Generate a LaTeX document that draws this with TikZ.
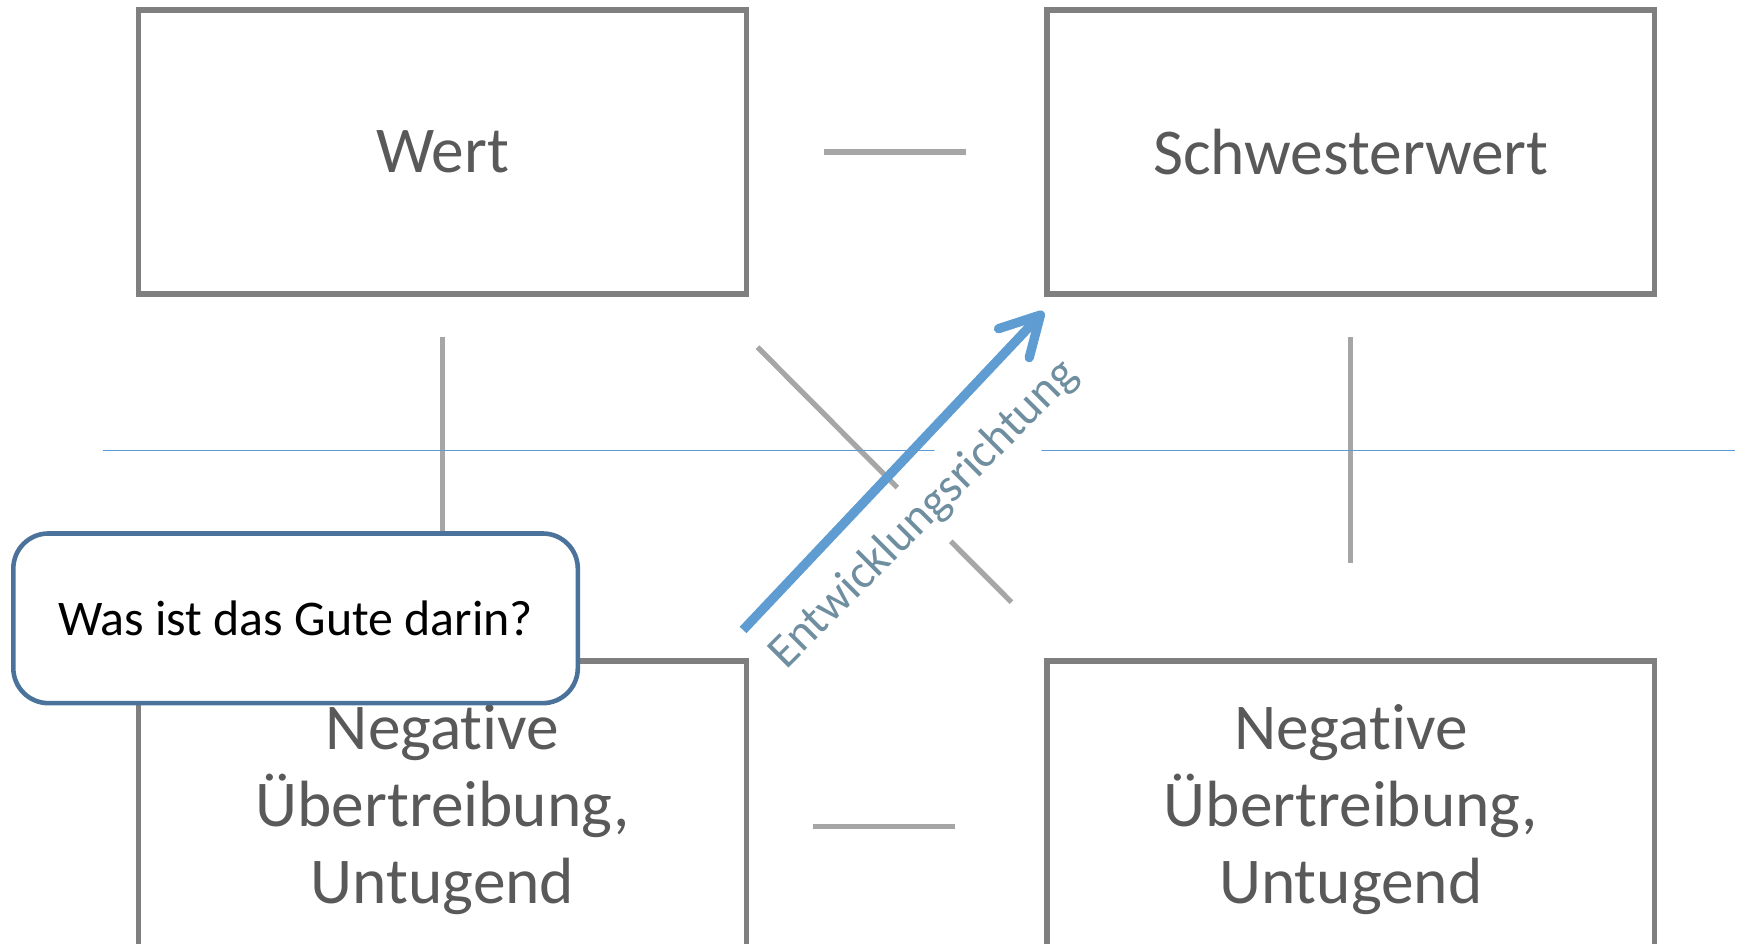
\documentclass[tikz,border=0pt]{standalone}
\usepackage{fontspec}
\setmainfont{Carlito}[Ligatures=NoCommon]
\usetikzlibrary{arrows.meta}
\definecolor{boxgray}{HTML}{7F7F7F}
\definecolor{linegray}{HTML}{A6A6A6}
\definecolor{txtgray}{HTML}{595959}
\definecolor{axisblue}{HTML}{5B9BD5}
\definecolor{arrowblue}{HTML}{5E9CD1}
\definecolor{dirtxt}{HTML}{6F8FA0}
\definecolor{callblue}{HTML}{4A729B}
\def\pxu{0.1109mm}
\begin{document}
\begin{tikzpicture}[x=0.1109mm,y=-0.1109mm,
  valbox/.style={draw=boxgray, line width=1.5pt, minimum width=548*\pxu, minimum height=256*\pxu,
    text=txtgray, align=center, font=\fontsize{18.6}{22}\selectfont, inner sep=0pt},
  lowbox/.style={valbox, minimum height=268*\pxu},
  link/.style={draw=linegray, line width=1.5pt},
  axis/.style={draw=axisblue, line width=0.4pt},
  dirlabel/.style={fill=white, text=dirtxt, font=\fontsize{13.6}{16}\selectfont, minimum height=68*\pxu, inner ysep=0pt, inner xsep=2pt},
  devarrow/.style={draw=arrowblue, line width=2.65pt, -{Straight Barb[length=11pt,width=12pt,round]}},
  callout/.style={draw=callblue, line width=1.3pt, fill=white, rounded corners=10pt,
    minimum width=509*\pxu, minimum height=153*\pxu, font=\fontsize{14.2}{17}\selectfont, text=black}
]
\useasboundingbox (0,0) rectangle (1568,851);
\clip (0,0) rectangle (1568,851);
% boxes
\node[valbox] (wert) at (399,137) {Wert};
\node[valbox] (schw) at (1218,137) {Schwesterwert};
\node[lowbox] (negl) at (399,730) {Negative\\Übertreibung,\\Untugend};
\node[lowbox] (negr) at (1218,730) {Negative\\Übertreibung,\\Untugend};
% gray links
\coordinate (ta) at (743,137); \coordinate (tb) at (871,137);
\coordinate (ba) at (733,745); \coordinate (bb) at (861,745);
\coordinate (la) at (399,304); \coordinate (lb) at (399,508);
\coordinate (ra) at (1218,304); \coordinate (rb) at (1218,508);
\coordinate (da) at (683,313); \coordinate (db) at (912,543);
\draw[link] (ta) -- (tb);
\draw[link] (ba) -- (bb);
\draw[link] (la) -- (lb);
\draw[link] (ra) -- (rb);
\draw[link] (da) -- (db);
% blue axis
\coordinate (xa) at (93,406); \coordinate (xb) at (1564,406);
\draw[axis] (xa) -- (xb);
% direction label
\node[dirlabel, rotate=45] (dir) at (833,464) {Entwicklungsrichtung};
% arrow
\coordinate (aa) at (670,568); \coordinate (ab) at (941,281);
\draw[devarrow] (aa) -- (ab);
% callout
\node[callout] (q) at (266.5,557.5) {Was ist das Gute darin?};
\end{tikzpicture}
\end{document}
